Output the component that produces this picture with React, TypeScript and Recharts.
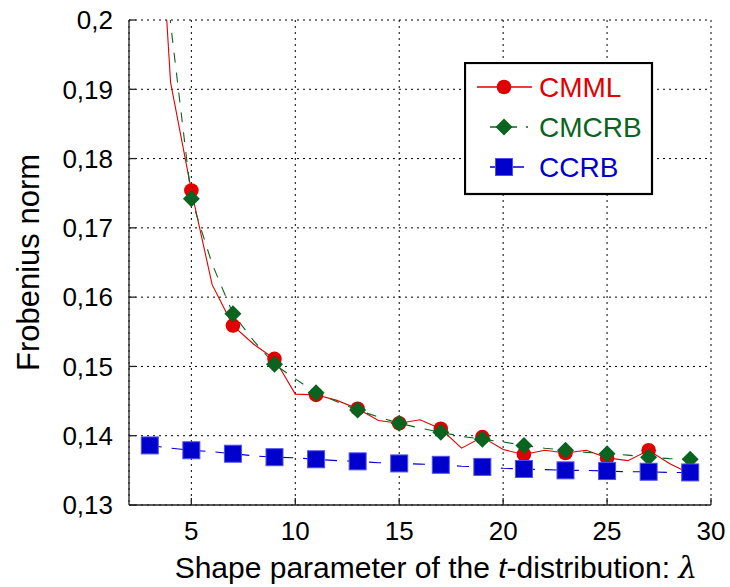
import React from 'react';
import { LineChart, Line, XAxis, YAxis, CartesianGrid } from 'recharts';

const lambda = [3, 4, 5, 6, 7, 8, 9, 10, 11, 12, 13, 14, 15, 16, 17, 18, 19, 20, 21, 22, 23, 24, 25, 26, 27, 28, 29];
const cmml = [0.24, 0.191, 0.1754, 0.1618, 0.1559, 0.1532, 0.1511, 0.146, 0.1459, 0.1451, 0.1439, 0.1422, 0.1418, 0.1423, 0.141, 0.1382, 0.1398, 0.138, 0.1373, 0.1379, 0.1375, 0.1379, 0.1368, 0.1364, 0.1379, 0.136, 0.1345];
const cmcrb = [0.25, 0.1995, 0.1742, 0.1648, 0.1576, 0.1537, 0.1503, 0.1482, 0.1462, 0.1449, 0.1437, 0.1427, 0.1418, 0.1411, 0.1405, 0.1399, 0.1395, 0.1391, 0.1386, 0.1382, 0.1379, 0.1376, 0.1374, 0.1372, 0.1369, 0.1367, 0.1366];
const ccrb = [0.1386, 0.1382, 0.1379, 0.1377, 0.1374, 0.1371, 0.1369, 0.1368, 0.1366, 0.1364, 0.1363, 0.1361, 0.136, 0.1359, 0.1358, 0.1356, 0.1355, 0.1353, 0.1352, 0.1351, 0.135, 0.135, 0.1349, 0.1348, 0.1348, 0.1347, 0.1347];
const xTicks = [5, 10, 15, 20, 25, 30];
const yTicks = [0.13, 0.14, 0.15, 0.16, 0.17, 0.18, 0.19, 0.2];
const xDomain = [2, 30];
const yDomain = [0.13, 0.2];

const data = lambda.map((l, i) => ({ l, cmml: cmml[i], cmcrb: cmcrb[i], ccrb: ccrb[i] }));

const RED = '#e00000';
const GREEN = '#0a6420';
const BLUE = '#0000cc';
const FONT = '"Liberation Sans", Arial, sans-serif';
const AXIS = '#222';

const showDot = (props: any, key: string) =>
  props.payload && props.payload.l % 2 === 1 && props.payload[key] <= yDomain[1] && props.cx != null && props.cy != null;

const CircleDot = (props: any) => {
  if (!showDot(props, 'cmml')) return <g key={`c${props.index}`} />;
  return <circle key={`c${props.index}`} cx={props.cx} cy={props.cy} r={7.3} fill={RED} />;
};
const DiamondDot = (props: any) => {
  if (!showDot(props, 'cmcrb')) return <g key={`d${props.index}`} />;
  const { cx, cy } = props;
  const s = 8.5;
  return <polygon key={`d${props.index}`} points={`${cx},${cy - s} ${cx + s},${cy} ${cx},${cy + s} ${cx - s},${cy}`} fill={GREEN} />;
};
const SquareDot = (props: any) => {
  if (!showDot(props, 'ccrb')) return <g key={`s${props.index}`} />;
  const { cx, cy } = props;
  return <rect key={`s${props.index}`} x={cx - 8.5} y={cy - 8.5} width={17} height={17} fill={BLUE} stroke="#5050f0" strokeWidth={1} />;
};

const fmtY = (v: number) => Number(v.toFixed(2)).toString().replace('.', ',');

const XLabel = (props: any) => {
  const vb = props.viewBox || { x: 0, y: 0, width: 0, height: 0 };
  return (
    <text x={vb.x + vb.width / 2 + 16} y={vb.y + 73} textAnchor="middle" fontFamily={FONT} fontSize={30} fill="#000">
      Shape parameter of the <tspan fontStyle="italic">t</tspan>-distribution: <tspan fontFamily="'DejaVu Serif', serif" fontStyle="italic">λ</tspan>
    </text>
  );
};

const YLabel = (props: any) => {
  const vb = props.viewBox || { x: 0, y: 0, width: 0, height: 0 };
  const x = vb.x + 39;
  const y = vb.y + vb.height / 2;
  return (
    <text x={x} y={y} transform={`rotate(-90 ${x} ${y})`} textAnchor="middle" fontFamily={FONT} fontSize={31} fill="#000">
      Frobenius norm
    </text>
  );
};

const legendItems = [
  { name: 'CMML', color: RED, dash: undefined as string | undefined, x1: 477, x2: 532, shape: 'circle' },
  { name: 'CMCRB', color: GREEN, dash: '9 9', x1: 490, x2: 528, shape: 'diamond' },
  { name: 'CCRB', color: BLUE, dash: '12 10', x1: 490, x2: 528, shape: 'square' },
];

const LegendBox = () => {
  const left = 464;
  const top = 62;
  return (
    <svg width={190} height={134} style={{ position: 'absolute', left, top }}>
      <rect x={1} y={1} width={187} height={131} fill="#fff" stroke="#000" strokeWidth={2.2} />
      {legendItems.map((it, i) => {
        const cy = 25 + i * 40;
        const mx = 504 - left;
        return (
          <g key={it.name}>
            <line x1={it.x1 - left} x2={it.x2 - left} y1={cy} y2={cy} stroke={it.color} strokeWidth={1.3} strokeDasharray={it.dash} />
            {it.shape === 'circle' && <circle cx={mx} cy={cy} r={7.3} fill={it.color} />}
            {it.shape === 'diamond' && (
              <polygon points={`${mx},${cy - 8.5} ${mx + 8.5},${cy} ${mx},${cy + 8.5} ${mx - 8.5},${cy}`} fill={it.color} />
            )}
            {it.shape === 'square' && <rect x={mx - 8.5} y={cy - 8.5} width={17} height={17} fill={it.color} stroke="#5050f0" />}
            <text x={539 - left} y={cy + 10} fontFamily={FONT} fontSize={28} fill={it.color}>
              {it.name}
            </text>
          </g>
        );
      })}
    </svg>
  );
};

export default function App() {
  return (
    <div style={{ position: 'absolute', left: 0, top: 0, width: 730, height: 587, background: '#fff' }}>
      <LineChart width={730} height={587} data={data} margin={{ top: 20, right: 19, left: 0, bottom: 0 }}>
        <CartesianGrid xAxisId="b" yAxisId="l" stroke="#000" strokeDasharray="2 4" strokeWidth={1} />
        <XAxis
          xAxisId="b"
          dataKey="l"
          type="number"
          domain={xDomain}
          ticks={xTicks}
          height={82}
          stroke={AXIS}
          strokeWidth={1.3}
          tickSize={-7}
          tickMargin={24}
          tick={{ fill: '#000', fontSize: 26, fontFamily: FONT }}
          label={<XLabel />}
          allowDataOverflow
        />
        <XAxis
          xAxisId="t"
          orientation="top"
          dataKey="l"
          type="number"
          domain={xDomain}
          ticks={xTicks}
          height={0}
          stroke={AXIS}
          strokeWidth={1.3}
          tickSize={-7}
          tick={false}
          allowDataOverflow
        />
        <YAxis
          yAxisId="l"
          type="number"
          domain={yDomain}
          ticks={yTicks}
          width={129}
          stroke={AXIS}
          strokeWidth={1.3}
          tickSize={-7}
          tickMargin={23}
          tickFormatter={fmtY}
          tick={{ fill: '#000', fontSize: 26, fontFamily: FONT }}
          label={<YLabel />}
          allowDataOverflow
        />
        <YAxis
          yAxisId="r"
          orientation="right"
          type="number"
          domain={yDomain}
          ticks={yTicks}
          width={0}
          stroke={AXIS}
          strokeWidth={1.3}
          tickSize={-7}
          tick={false}
          allowDataOverflow
        />
        <Line xAxisId="b" yAxisId="l" dataKey="cmml" stroke={RED} strokeWidth={1.1} dot={CircleDot} activeDot={false} isAnimationActive={false} />
        <Line xAxisId="b" yAxisId="l" dataKey="cmcrb" stroke={GREEN} strokeWidth={1.1} strokeDasharray="10 10" dot={DiamondDot} activeDot={false} isAnimationActive={false} />
        <Line xAxisId="b" yAxisId="l" dataKey="ccrb" stroke={BLUE} strokeWidth={1.1} strokeDasharray="12 10" dot={SquareDot} activeDot={false} isAnimationActive={false} />
      </LineChart>
      <LegendBox />
    </div>
  );
}
